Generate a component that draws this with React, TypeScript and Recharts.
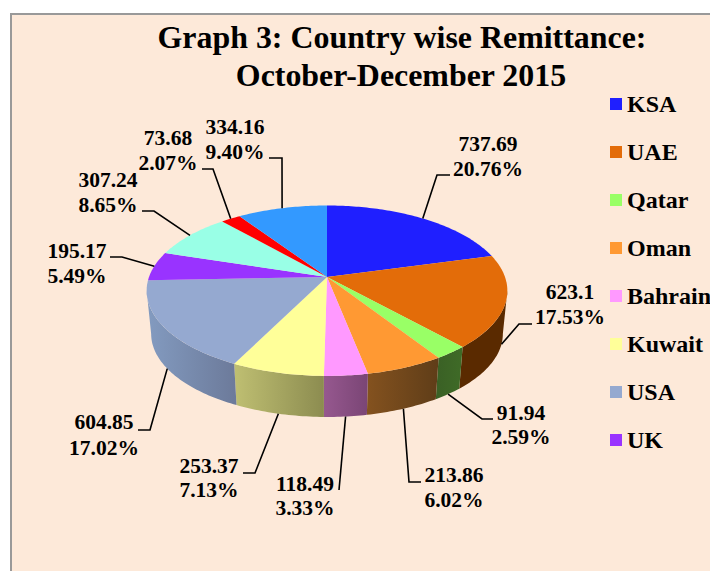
import React from "react";
import { Legend, Pie, PieChart } from "recharts";

// the last three slices have no legend entry in the source, their names are not readable
const countries = ["KSA", "UAE", "Qatar", "Oman", "Bahrain", "Kuwait", "USA", "UK", "Other 1", "Other 2", "Other 3"];
const legendNames = ["KSA", "UAE", "Qatar", "Oman", "Bahrain", "Kuwait", "USA", "UK"];
const remittance = [737.69, 623.1, 91.94, 213.86, 118.49, 253.37, 604.85, 195.17, 307.24, 73.68, 334.16];
const shares = ["20.76%", "17.53%", "2.59%", "6.02%", "3.33%", "7.13%", "17.02%", "5.49%", "8.65%", "2.07%", "9.40%"];

const topColors = ["#1f1fff", "#e36c09", "#99ff66", "#ff9933", "#ff99ff", "#ffff99", "#95a9d0", "#9933ff", "#99ffe6", "#ff0000", "#3399ff"];
const wallFrom = ["#10108f", "#5a2a00", "#3f6b27", "#84521f", "#96588f", "#bfbf72", "#839bc0", "#551e8f", "#558f80", "#8f0000", "#1c5c8f"];
const wallTo = ["#10108f", "#5a2a00", "#3a6025", "#5f3d18", "#7a4575", "#8c8c50", "#6c7a9a", "#551e8f", "#558f80", "#8f0000", "#1c5c8f"];

// text centre, two baselines, leader elbow and leader end for each slice
const labelLayout = [
  { x: 488, y1: 151, y2: 176, elbow: [437, 175], end: [450, 175] },
  { x: 570, y1: 299, y2: 324, elbow: [519, 324], end: [532, 324] },
  { x: 521, y1: 420, y2: 444, elbow: [482, 419], end: [493, 419] },
  { x: 454, y1: 482, y2: 507, elbow: [409, 482], end: [421, 482] },
  { x: 305, y1: 491, y2: 515, elbow: [339, 490], end: [339, 490] },
  { x: 209, y1: 473, y2: 497, elbow: [255, 473], end: [243, 473] },
  { x: 104, y1: 429, y2: 455, elbow: [150, 430], end: [138, 430] },
  { x: 77, y1: 258, y2: 283, elbow: [122, 257], end: [110, 257] },
  { x: 108, y1: 187, y2: 212, elbow: [154, 211], end: [142, 211] },
  { x: 168, y1: 145, y2: 170, elbow: [213, 169], end: [202, 169] },
  { x: 235, y1: 134, y2: 159, elbow: [282, 158], end: [269, 158] },
];

const chartData = countries.map((name, i) => ({ name, value: remittance[i], fill: topColors[i] }));

const FONT = '"Liberation Serif", serif';
const CX = 327;
const CY = 277;
const RADIUS = 178;
const SQUASH = 83 / 178;
const PERSPECTIVE = 0.161;
// the bottom rim sits lower and a little smaller than the top one
const DEPTH = 43.5;
const BOTTOM_SCALE = 0.975;
// clockwise from 12 o'clock, the part of the rim that shows a wall
const WALL_START = 99.3;
const WALL_END = 260.7;

// tilted disc: clockwise degrees from the top to a screen point
function project(theta: number, cx: number, cy: number, r: number) {
  const rad = (theta * Math.PI) / 180;
  const u = Math.sin(rad);
  const v = Math.cos(rad);
  const w = 1 + PERSPECTIVE * v;
  return [cx + (r * u) / w, cy - (r * SQUASH * v) / w];
}

function arcPoints(from: number, to: number, cx: number, cy: number, r: number) {
  const steps = Math.max(2, Math.ceil(to - from));
  const pts: number[][] = [];
  for (let i = 0; i <= steps; i++) {
    pts.push(project(from + ((to - from) * i) / steps, cx, cy, r));
  }
  return pts;
}

const toPath = (pts: number[][]) => pts.map((p, i) => `${i ? "L" : "M"}${p[0].toFixed(2)} ${p[1].toFixed(2)}`).join(" ");

function TopSlice(props: any) {
  const { cx, cy, outerRadius, startAngle, endAngle, fill } = props;
  const pts = arcPoints(90 - startAngle, 90 - endAngle, cx, cy, outerRadius);
  return <path d={`M${cx} ${cy} ${toPath(pts).replace("M", "L")} Z`} fill={fill} />;
}

function WallSlice(props: any) {
  const { cx, cy, outerRadius, startAngle, endAngle, index } = props;
  const from = Math.max(90 - startAngle, WALL_START);
  const to = Math.min(90 - endAngle, WALL_END);
  if (to <= from) return <g />;
  const top = arcPoints(from, to, cx, cy, outerRadius);
  const bottom = arcPoints(from, to, cx, cy + DEPTH, outerRadius * BOTTOM_SCALE).reverse();
  const id = `wall-${index}`;
  return (
    <g>
      <defs>
        <linearGradient id={id} x1="0" y1="0" x2="1" y2="0">
          <stop offset="0" stopColor={index < 3 ? wallTo[index] : wallFrom[index]} />
          <stop offset="1" stopColor={index < 3 ? wallFrom[index] : wallTo[index]} />
        </linearGradient>
      </defs>
      <path d={`${toPath(top)} ${toPath(bottom).replace("M", "L")} Z`} fill={`url(#${id})`} />
    </g>
  );
}

function SliceLabel(props: any) {
  const { midAngle, index, cx, cy, outerRadius } = props;
  const layout = labelLayout[index];
  const theta = 90 - midAngle;
  const onWall = theta > WALL_START && theta < WALL_END;
  const start = onWall
    ? project(theta, cx, cy + DEPTH, outerRadius * BOTTOM_SCALE)
    : project(theta, cx, cy, outerRadius);
  const line = [start, layout.elbow, layout.end];
  return (
    <g>
      <polyline points={line.map((q) => q.join(",")).join(" ")} fill="none" stroke="#000" strokeWidth={1.6} />
      <text x={layout.x} y={layout.y1} textAnchor="middle" fontFamily={FONT} fontWeight="bold" fontSize={21.5} fill="#000">
        {remittance[index]}
      </text>
      <text x={layout.x} y={layout.y2} textAnchor="middle" fontFamily={FONT} fontWeight="bold" fontSize={21.5} fill="#000">
        {shares[index]}
      </text>
    </g>
  );
}

function LegendList(props: any) {
  const payload = props.payload || [];
  return (
    <div>
      {legendNames.map((name) => {
        const item = payload.find((it: any) => it.value === name);
        return (
          <div key={name} style={{ display: "flex", alignItems: "center", height: 48 }}>
            <span style={{ width: 12, height: 12, background: item ? item.color : "#000", marginRight: 5, flex: "none" }} />
            <span style={{ fontFamily: FONT, fontWeight: "bold", fontSize: 24, color: "#000", whiteSpace: "nowrap" }}>{name}</span>
          </div>
        );
      })}
    </div>
  );
}

export default function App() {
  return (
    <div style={{ position: "absolute", left: 0, top: 0, width: 710, height: 571, overflow: "hidden", background: "#fff" }}>
      <div
        style={{
          position: "absolute",
          left: 10,
          top: 13,
          width: 700,
          height: 558,
          boxSizing: "border-box",
          borderLeft: "2px solid #999",
          borderTop: "2px solid #999",
          background: "#fde9d9",
        }}
      />
      <PieChart width={710} height={571} margin={{ top: 0, right: 0, bottom: 0, left: 0 }} style={{ position: "absolute", left: 0, top: 0 }}>
        <text x={402} y={48} textAnchor="middle" fontFamily={FONT} fontWeight="bold" fontSize={31.9} fill="#000">
          Graph 3: Country wise Remittance:
        </text>
        <text x={401} y={86} textAnchor="middle" fontFamily={FONT} fontWeight="bold" fontSize={31.9} fill="#000">
          October-December 2015
        </text>
        <Pie
          data={chartData}
          dataKey="value"
          nameKey="name"
          cx={CX}
          cy={CY}
          outerRadius={RADIUS}
          startAngle={90}
          endAngle={-270}
          stroke="none"
          legendType="none"
          shape={WallSlice}
          isAnimationActive={false}
        />
        <Pie
          data={chartData}
          dataKey="value"
          nameKey="name"
          cx={CX}
          cy={CY}
          outerRadius={RADIUS}
          startAngle={90}
          endAngle={-270}
          stroke="none"
          shape={TopSlice}
          label={SliceLabel}
          labelLine={false}
          isAnimationActive={false}
        />
        <Legend
          content={LegendList}
          layout="vertical"
          align="right"
          verticalAlign="top"
          wrapperStyle={{ position: "absolute", left: 610, top: 80, width: 100, right: "auto" }}
        />
      </PieChart>
    </div>
  );
}
